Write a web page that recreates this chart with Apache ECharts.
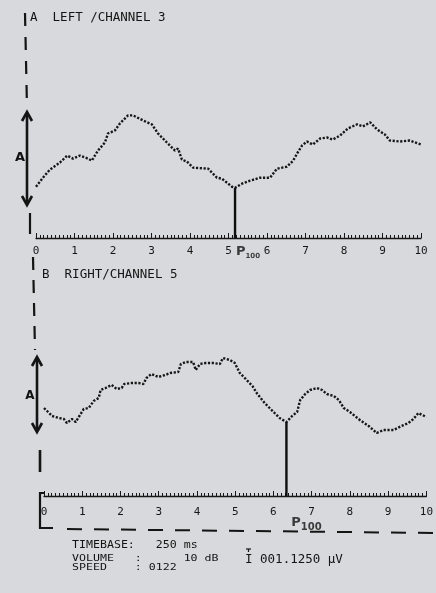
<!DOCTYPE html>
<html>
<head>
<meta charset="utf-8">
<script src="https://cdn.jsdelivr.net/npm/echarts@6/dist/echarts.min.js"></script>
<style>html,body{margin:0;padding:0;background:#d8d9dc;}#c{width:436px;height:593px;}</style>
</head>
<body>
<div id="c"></div>
<script>
// ---- data ----
const tickLabels = ['0','1','2','3','4','5','6','7','8','9','10'];
const leftTime = [0,0.18,0.36,0.62,0.81,0.96,1.14,1.35,1.45,1.61,1.79,1.87,2.05,2.18,2.39,2.52,2.78,3.01,3.17,3.40,3.61,3.69,3.79,3.92,4.08,4.47,4.70,4.83,5.09,5.17,5.35,5.56,5.82,6.08,6.26,6.52,6.68,6.78,6.91,7.04,7.19,7.38,7.56,7.71,7.90,8.10,8.34,8.49,8.68,8.86,9.06,9.19,9.45,9.71,10.0];
const leftAmp  = [25.5,30,34,37.5,41,39.5,41,39.5,38.5,43.5,47.5,52,53.5,57,61,61,58.5,56.5,52,47.5,43.5,44.5,39,38,35,34.5,30,29.5,25.5,25,27,28.5,30,30,34.5,35.5,38.5,42,46,48,46.5,49.5,50,49,51,54.5,56.5,55.5,57.5,54,51.5,48.5,48,48.5,46.5];
const rightTime = [0,0.08,0.21,0.39,0.52,0.60,0.73,0.83,0.91,1.04,1.17,1.30,1.43,1.48,1.61,1.77,1.90,2.03,2.10,2.29,2.47,2.60,2.68,2.81,2.99,3.17,3.30,3.51,3.58,3.71,3.90,3.97,4.08,4.23,4.42,4.60,4.68,4.86,4.99,5.12,5.25,5.45,5.58,5.77,5.90,6.03,6.16,6.34,6.49,6.62,6.70,6.83,6.96,7.14,7.27,7.40,7.58,7.71,7.84,8.00,8.26,8.49,8.70,8.88,9.14,9.35,9.53,9.66,9.79,10.0];
const rightAmp  = [44,42.5,40,39,38.5,36.5,38.5,37,39.5,43.5,44,47.5,49,53,54,55.5,53.5,54,56,56.5,56.5,56,59,61,59.5,60.5,61.5,62,66,67,67,63,66,66.5,66.5,66,69,68,66.5,61.5,59,55,51,46.5,44,41.5,39,37,40,42,48,51,53,54,53,51,50,48,44,42,38,35,31.5,33,33,35,36.5,38.5,41.5,39.5];
const p100Time = [5.17, 6.34];
const p100Amp  = [25, 37];

const zip = (a, b) => a.map((v, i) => [v, b[i]]);
const ink = '#161616';
const mono = '"DejaVu Sans Mono"';

function xAxisCfg(gi) {
  return {
    gridIndex: gi, type: 'value', min: 0, max: 10, interval: 1,
    axisLine: { show: true, onZero: false, lineStyle: { color: ink, width: 1.3 } },
    axisTick: { show: true, inside: true, length: 5, lineStyle: { color: ink, width: 1 } },
    minorTick: { show: true, splitNumber: 10, length: 3, lineStyle: { color: ink, width: 1 } },
    splitLine: { show: false },
    axisLabel: { margin: gi === 0 ? 8 : 11, fontFamily: 'DejaVu Sans Mono', fontSize: 11, color: ink,
      formatter: v => tickLabels[Math.round(v)] }
  };
}
function yAxisCfg(gi) {
  return { gridIndex: gi, type: 'value', min: 0, max: 100, show: false };
}
function traceSeries(gi, t, a) {
  return { type: 'line', xAxisIndex: gi, yAxisIndex: gi, data: zip(t, a), showSymbol: false,
    silent: true, lineStyle: { color: ink, width: 2.4, type: [2.2, 1.6] } };
}
function p100Series(gi, subSize, off) {
  return [
    { type: 'line', xAxisIndex: gi, yAxisIndex: gi, showSymbol: false, silent: true,
      data: [[p100Time[gi], p100Amp[gi]], [p100Time[gi], 0]],
      lineStyle: { color: '#0e0e0e', width: 2.4 } },
    { type: 'scatter', xAxisIndex: gi, yAxisIndex: gi, symbolSize: 1, silent: true,
      itemStyle: { color: 'rgba(0,0,0,0)' },
      data: [[p100Time[gi], 0]],
      label: { show: true, position: 'inside', offset: off, formatter: '{p|P}{s|100}',
        rich: {
          p: { fontFamily: 'DejaVu Sans', fontSize: 13, fontWeight: 'bold', color: '#111', lineHeight: 14 },
          s: { fontFamily: 'DejaVu Sans', fontSize: subSize, fontWeight: 'bold', color: '#111', lineHeight: 14, padding: [8, 0, 0, 0] }
        } } }
  ];
}

const lineStyle = (w, dash) => ({ stroke: '#141414', lineWidth: w, lineDash: dash || null, fill: null });
const txt = (x, y, s, font, sx) => ({ type: 'text', x: x, y: y, scaleX: sx || 1, silent: true,
  style: { text: s, font: font, fill: '#141414', verticalAlign: 'middle' } });

const graphic = [
  // left channel frame
  { type: 'line', shape: { x1: 25, y1: 13, x2: 27, y2: 108 }, style: lineStyle(2.2, [13, 11]) },
  { type: 'line', shape: { x1: 27, y1: 113, x2: 27, y2: 204 }, style: lineStyle(2.6) },
  { type: 'polyline', shape: { points: [[22, 121], [27, 112], [32, 121]] }, style: lineStyle(2.6) },
  { type: 'polyline', shape: { points: [[22, 196], [27, 205], [32, 196]] }, style: lineStyle(2.6) },
  { type: 'line', shape: { x1: 30, y1: 213, x2: 30, y2: 234 }, style: lineStyle(2.2) },
  { type: 'text', x: 20, y: 158, silent: true, style: { text: 'A', font: 'bold 13px "DejaVu Sans"', fill: '#111', align: 'center', verticalAlign: 'middle' } },
  // right channel frame
  { type: 'line', shape: { x1: 33, y1: 257, x2: 35, y2: 350 }, style: lineStyle(2.2, [13, 10]) },
  { type: 'line', shape: { x1: 37, y1: 358, x2: 37, y2: 431 }, style: lineStyle(2.6) },
  { type: 'polyline', shape: { points: [[32, 366], [37, 357], [42, 366]] }, style: lineStyle(2.6) },
  { type: 'polyline', shape: { points: [[32, 423], [37, 432], [42, 423]] }, style: lineStyle(2.6) },
  { type: 'line', shape: { x1: 40, y1: 450, x2: 40, y2: 472 }, style: lineStyle(2.6) },
  { type: 'polyline', shape: { points: [[44, 493], [40, 493], [40, 528], [53, 528]] }, style: lineStyle(2.2) },
  { type: 'line', shape: { x1: 67, y1: 529, x2: 436, y2: 533 }, style: lineStyle(2, [15, 12]) },
  { type: 'text', x: 30, y: 396, silent: true, style: { text: 'A', font: 'bold 12px "DejaVu Sans"', fill: '#111', align: 'center', verticalAlign: 'middle' } },
  // titles
  txt(30, 18, 'A  LEFT /CHANNEL 3', '12.5px ' + mono),
  txt(42, 275, 'B  RIGHT/CHANNEL 5', '12.5px ' + mono),
  // footer
  txt(72, 545, 'TIMEBASE:   250 ms', '10px ' + mono, 1.16),
  txt(72, 559, 'VOLUME   :      10 dB', '9.5px ' + mono, 1.22),
  txt(72, 568, 'SPEED    : 0122', '9.5px ' + mono, 1.22),
  txt(245, 560, 'I 001.1250 \u03bcV', '12.5px ' + mono),
  { type: 'line', shape: { x1: 246, y1: 549, x2: 251, y2: 549 }, style: lineStyle(1.2) },
  { type: 'line', shape: { x1: 248.5, y1: 549, x2: 248.5, y2: 552 }, style: lineStyle(1.2) }
];

const option = {
  backgroundColor: '#d8d9dc',
  animation: false,
  grid: [
    { left: 36, top: 37, width: 385, height: 201 },
    { left: 44, top: 296, width: 385, height: 200 }
  ],
  xAxis: [xAxisCfg(0), xAxisCfg(1)],
  yAxis: [yAxisCfg(0), yAxisCfg(1)],
  series: [
    traceSeries(0, leftTime, leftAmp),
    traceSeries(1, rightTime, rightAmp),
    ...p100Series(0, 7, [13, 14]),
    ...p100Series(1, 10, [20, 27])
  ],
  graphic: graphic
};

const chart = echarts.init(document.getElementById('c'), null, { renderer: 'canvas' });
chart.setOption(option);
</script>
</body>
</html>
